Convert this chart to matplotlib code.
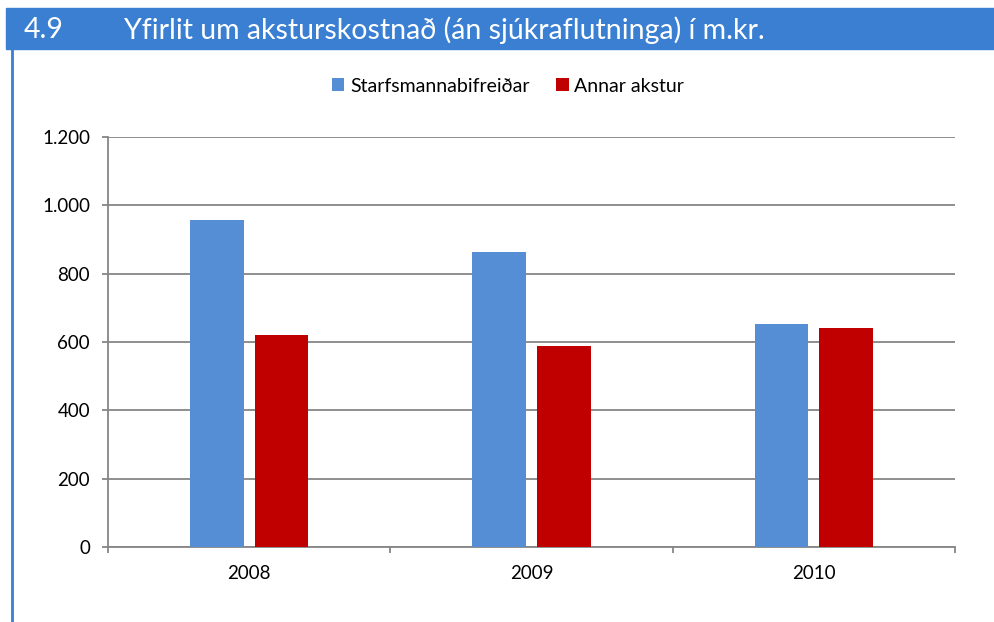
import numpy as np
import matplotlib.pyplot as plt
from matplotlib.patches import Rectangle
from matplotlib.lines import Line2D
from matplotlib.ticker import FuncFormatter

# data (m.kr.)
years = ["2008", "2009", "2010"]
starfsmenn = [957, 864, 652]
annar = [620, 589, 641]
series_names = ["Starfsmannabifreiðar", "Annar akstur"]
title_no = "4.9"
title = "Yfirlit um aksturskostnað (án sjúkraflutninga) í m.kr."

blue = "#558ED5"
red = "#C00000"
bar_blue = "#3A7FD2"
grid = "#868686"

plt.rcParams['font.family'] = ['Lato', 'DejaVu Sans']

fig = plt.figure(figsize=(9.95, 6.22), dpi=100)

# title bar
fig.patches.append(Rectangle((6/995, 1 - 49/622), 1 - 6/995, 41/622,
                             transform=fig.transFigure, color=bar_blue, zorder=0))
fig.text(24/995, 1 - 30/622, title_no, color="white", fontsize=20.5, va="center")
fig.text(124/995, 1 - 30/622, title, color="white", fontsize=20.5, va="center")
# left border line
fig.lines.append(Line2D([12/995, 12/995], [0, 1 - 49/622], transform=fig.transFigure,
                        color=bar_blue, lw=2))

ax = fig.add_axes([108/995, 75/622, 847/995, 410/622])
x = np.arange(len(years))
w = 0.19
ax.bar(x - 0.115, starfsmenn, w, color=blue, label=series_names[0], zorder=3)
ax.bar(x + 0.115, annar, w, color=red, label=series_names[1], zorder=3)

ax.set_xlim(-0.5, 2.5)
ax.set_ylim(0, 1200)
ax.set_yticks(np.arange(0, 1201, 200))
ax.yaxis.set_major_formatter(FuncFormatter(lambda v, p: f"{int(v):,}".replace(",", ".")))
ax.yaxis.grid(True, color=grid, lw=1.3, zorder=0)

ax.set_xticks(x)
ax.set_xticklabels(years)
ax.set_xticks([-0.5, 0.5, 1.5, 2.5], minor=True)
ax.tick_params(axis="x", which="major", length=0, pad=13, labelsize=13.5)
ax.tick_params(axis="x", which="minor", length=4.5, color=grid, width=1.3)
ax.tick_params(axis="y", length=4, color=grid, width=1.3, labelsize=13.5, pad=9)

for s in ["top", "right"]:
    ax.spines[s].set_visible(False)
for s in ["left", "bottom"]:
    ax.spines[s].set_color(grid)
    ax.spines[s].set_linewidth(1.3)

fig.legend(loc="center", bbox_to_anchor=(508/995, 1 - 86/622), ncol=2, frameon=False,
           fontsize=14, handlelength=0.65, handleheight=0.65, columnspacing=1.35,
           handletextpad=0.3)

fig.savefig("out.png", dpi=100)
